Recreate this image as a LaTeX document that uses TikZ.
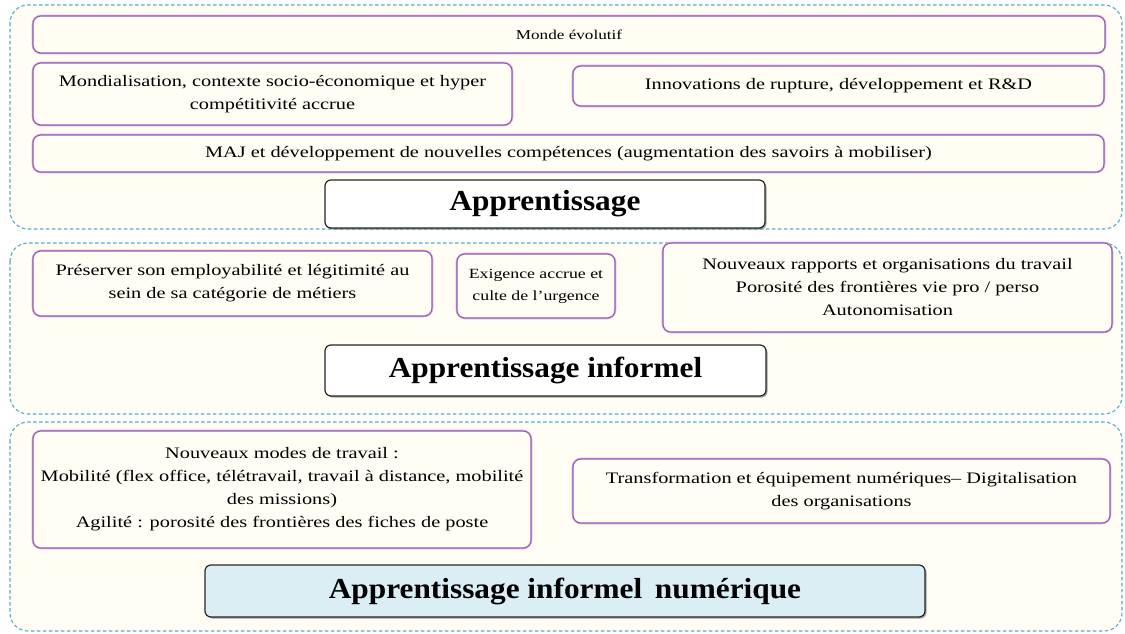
\documentclass[tikz,border=0pt]{standalone}
\usepackage{fontspec}
\setmainfont{Liberation Serif}[FakeStretch=1.27]
\newfontfamily\titlefont{Liberation Serif}[FakeStretch=1.08]
\usetikzlibrary{shadows}
\definecolor{dashblue}{RGB}{80,172,205}
\definecolor{cream}{RGB}{255,253,244}
\definecolor{boxpurple}{RGB}{135,95,185}
\definecolor{boxpink}{RGB}{240,170,210}
\definecolor{titlefill}{RGB}{218,238,243}
\tikzset{
  container/.style={draw=dashblue, line width=1.1pt, dash pattern=on 3.5pt off 2.5pt, rounded corners=18pt, fill=cream},
  pbox/.style={preaction={draw=boxpink, line width=2.6pt}, draw=boxpurple, line width=1.1pt, rounded corners=8pt, fill=cream, align=center, font=\fontsize{16}{23}\selectfont, inner sep=1pt},
  tbox/.style={draw=black!85, line width=1.2pt, rounded corners=6pt, fill=white, align=center, font=\titlefont\bfseries\fontsize{29}{32}\selectfont, drop shadow={shadow xshift=1.5pt, shadow yshift=-1.5pt, fill=black!60, opacity=0.6}}
}
\begin{document}
\begin{tikzpicture}[x=1pt,y=-1pt]
\useasboundingbox (0,0) rectangle (1125,634);
\fill[white] (0,0) rectangle (1125,634);
% containers
\draw[container] (10,5) rectangle (1122,229);
\draw[container] (10,243) rectangle (1122,414);
\draw[container] (10,422) rectangle (1122,631);
% block 1
\node[pbox, font=\fontsize{13.5}{23}\selectfont, minimum width=1072pt, minimum height=37pt] (monde) at (569,34.5) {Monde évolutif};
\node[pbox, minimum width=479pt, minimum height=62pt] (mond) at (272.5,94) {Mondialisation, contexte socio-économique et hyper\\compétitivité accrue};
\node[pbox, minimum width=531pt, minimum height=40pt] (innov) at (838.5,86) {Innovations de rupture, développement et R\&D};
\node[pbox, minimum width=1071pt, minimum height=37pt] (maj) at (568.5,153.5) {MAJ et développement de nouvelles compétences (augmentation des savoirs à mobiliser)};
\node[tbox, minimum width=440pt, minimum height=48pt] (app) at (545,204) {Apprentissage};
% block 2
\node[pbox, minimum width=399pt, minimum height=65pt] (pres) at (232.5,283.5) {Préserver son employabilité et légitimité au\\sein de sa catégorie de métiers};
\node[pbox, font=\fontsize{14}{22}\selectfont, minimum width=158pt, minimum height=64pt] (exig) at (536,286) {Exigence accrue et\\culte de l'urgence};
\node[pbox, minimum width=449pt, minimum height=89pt] (nouv) at (887.5,287.5) {Nouveaux rapports et organisations du travail\\Porosité des frontières vie pro / perso\\Autonomisation};
\node[tbox, minimum width=441pt, minimum height=51pt] (appi) at (545.5,370.5) {Apprentissage informel};
% block 3
\node[pbox, minimum width=498pt, minimum height=117pt] (modes) at (282,489.5) {Nouveaux modes de travail :\\Mobilité (flex office, télétravail, travail à distance, mobilité\\des missions)\\Agilité : porosité des frontières des fiches de poste};
\node[pbox, minimum width=537pt, minimum height=64pt] (transf) at (841.5,491) {Transformation et équipement numériques– Digitalisation\\des organisations};
\node[tbox, fill=titlefill, minimum width=720pt, minimum height=52pt] (appn) at (565,591) {Apprentissage informel\, numérique};
\end{tikzpicture}
\end{document}
